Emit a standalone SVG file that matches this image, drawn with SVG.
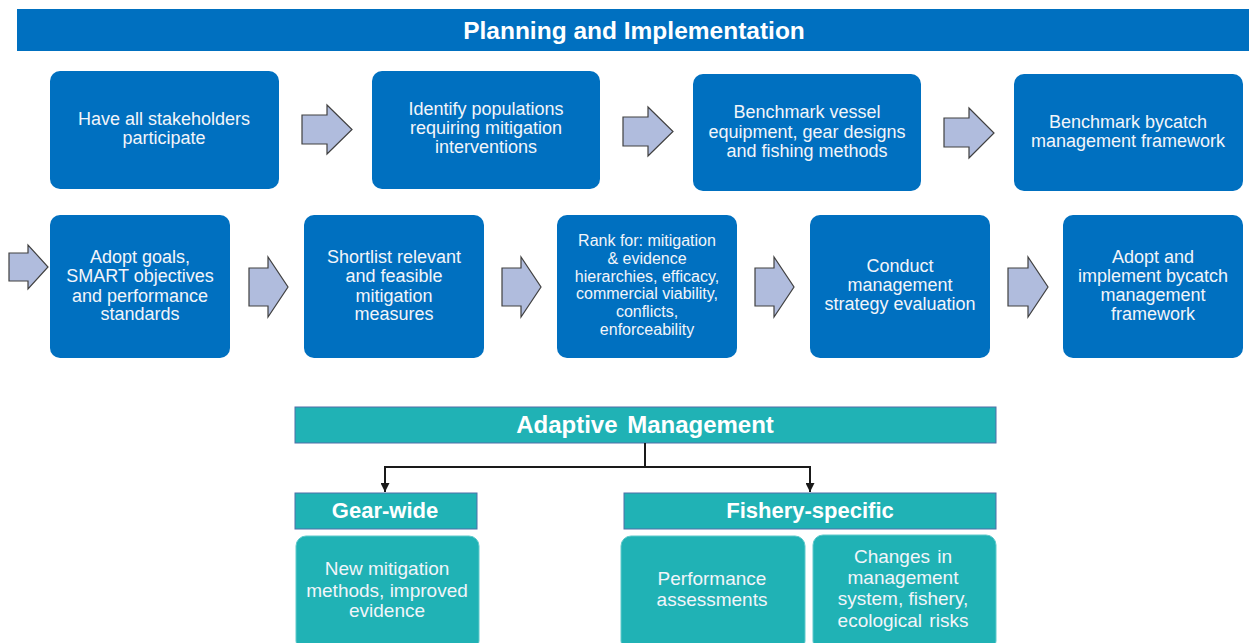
<svg xmlns="http://www.w3.org/2000/svg" width="1251" height="643" viewBox="0 0 1251 643">
<style>
.bar{fill:#0070C0}
.box{fill:#0070C0}
.tbar{fill:#20B2B5;stroke:#4F6FA8;stroke-width:1}
.tbox{fill:#20B2B5;stroke:#5FC9CB;stroke-width:1}
.arr{fill:#B0BCDD;stroke:#404040;stroke-width:1.2;stroke-linejoin:miter}
.t{font-family:"Liberation Sans",Arial,sans-serif;fill:#F2F5FA;text-anchor:middle}
.n{font-size:18px}
.s{font-size:16px}
.b{font-weight:bold;fill:#FFFFFF}
.c{fill:none;stroke:#1A1A1A;stroke-width:2}
</style>
<defs>
<marker id="ah" markerWidth="9" markerHeight="9" refX="9" refY="4.5" orient="auto" markerUnits="userSpaceOnUse" viewBox="0 0 9 9">
<path d="M0,0 L9,4.5 L0,9 Z" fill="#1A1A1A"/>
</marker>
</defs>
<rect width="1251" height="643" fill="#FFFFFF"/>

<g id="title">
<rect class="bar" x="17" y="9" width="1232" height="42"/>
<text class="t b" x="634" y="39" font-size="24.5">Planning and Implementation</text>
</g>

<g id="n1">
<rect class="box" x="50" y="71" width="229" height="118" rx="10"/>
<text class="t n" x="164" y="125">Have all stakeholders</text>
<text class="t n" x="164" y="144">participate</text>
</g>
<g id="n2">
<rect class="box" x="372" y="71" width="228" height="118" rx="10"/>
<text class="t n" x="486" y="115">Identify populations</text>
<text class="t n" x="486" y="134">requiring mitigation</text>
<text class="t n" x="486" y="153">interventions</text>
</g>
<g id="n3">
<rect class="box" x="693" y="74" width="228" height="117" rx="10"/>
<text class="t n" x="807" y="118">Benchmark vessel</text>
<text class="t n" x="807" y="138">equipment, gear designs</text>
<text class="t n" x="807" y="157">and fishing methods</text>
</g>
<g id="n4">
<rect class="box" x="1014" y="74" width="229" height="117" rx="10"/>
<text class="t n" x="1128" y="128">Benchmark bycatch</text>
<text class="t n" x="1128" y="147">management framework</text>
</g>

<g id="n5">
<rect class="box" x="50" y="215" width="180" height="143" rx="10"/>
<text class="t n" x="140" y="263">Adopt goals,</text>
<text class="t n" x="140" y="282">SMART objectives</text>
<text class="t n" x="140" y="302">and performance</text>
<text class="t n" x="140" y="320">standards</text>
</g>
<g id="n6">
<rect class="box" x="304" y="215" width="180" height="143" rx="10"/>
<text class="t n" x="394" y="263">Shortlist relevant</text>
<text class="t n" x="394" y="282">and feasible</text>
<text class="t n" x="394" y="302">mitigation</text>
<text class="t n" x="394" y="320">measures</text>
</g>
<g id="n7">
<rect class="box" x="557" y="215" width="180" height="143" rx="10"/>
<text class="t s" x="647" y="246">Rank for: mitigation</text>
<text class="t s" x="647" y="264">&amp; evidence</text>
<text class="t s" x="647" y="282">hierarchies, efficacy,</text>
<text class="t s" x="647" y="299">commercial viability,</text>
<text class="t s" x="647" y="317">conflicts,</text>
<text class="t s" x="647" y="335">enforceability</text>
</g>
<g id="n8">
<rect class="box" x="810" y="215" width="180" height="143" rx="10"/>
<text class="t n" x="900" y="272">Conduct</text>
<text class="t n" x="900" y="291">management</text>
<text class="t n" x="900" y="310">strategy evaluation</text>
</g>
<g id="n9">
<rect class="box" x="1063" y="215" width="180" height="143" rx="10"/>
<text class="t n" x="1153" y="263">Adopt and</text>
<text class="t n" x="1153" y="282">implement bycatch</text>
<text class="t n" x="1153" y="301">management</text>
<text class="t n" x="1153" y="320">framework</text>
</g>

<g id="flow-arrows">
<polygon class="arr" points="302,115 327,115 327,105 352,129.5 327,154 327,144 302,144"/>
<polygon class="arr" points="623,117 648,117 648,107 673,131.5 648,156 648,146 623,146"/>
<polygon class="arr" points="944,118 969,118 969,108 994,133 969,158 969,147 944,147"/>
<polygon class="arr" points="9,253 28,253 28,245 48,267 28,289 28,281 9,281"/>
<polygon class="arr" points="249,268 268,268 268,257 288,287 268,317 268,306 249,306"/>
<polygon class="arr" points="502,268 521,268 521,257 541,287 521,317 521,306 502,306"/>
<polygon class="arr" points="755,268 774,268 774,257 794,287 774,317 774,306 755,306"/>
<polygon class="arr" points="1008,268 1028,268 1028,257 1048,287 1028,317 1028,306 1008,306"/>
</g>

<g id="adaptive">
<rect class="tbar" x="295" y="407" width="701" height="36"/>
<text class="t b" x="645" y="433" font-size="24" word-spacing="3">Adaptive Management</text>
</g>

<g id="connectors">
<path class="c" d="M645,443 V467 H385 V492" marker-end="url(#ah)"/>
<path class="c" d="M645,467 H810 V492" marker-end="url(#ah)"/>
</g>

<g id="gear">
<rect class="tbar" x="295" y="493" width="182" height="36"/>
<text class="t b" x="385" y="518" font-size="22">Gear-wide</text>
</g>
<g id="fishery">
<rect class="tbar" x="624" y="493" width="372" height="36"/>
<text class="t b" x="810" y="518" font-size="22">Fishery-specific</text>
</g>

<g id="g1">
<rect class="tbox" x="296" y="536" width="183" height="115" rx="10"/>
<text class="t" font-size="19" x="387" y="575">New mitigation</text>
<text class="t" font-size="19" x="387" y="597">methods, improved</text>
<text class="t" font-size="19" x="387" y="617">evidence</text>
</g>
<g id="f1">
<rect class="tbox" x="621" y="536" width="184" height="115" rx="10"/>
<text class="t" font-size="19" x="712" y="585">Performance</text>
<text class="t" font-size="19" x="712" y="606">assessments</text>
</g>
<g id="f2">
<rect class="tbox" x="813" y="535" width="183" height="116" rx="10"/>
<text class="t" font-size="19" x="903" y="563" word-spacing="2">Changes in</text>
<text class="t" font-size="19" x="903" y="584">management</text>
<text class="t" font-size="19" x="903" y="605">system, fishery,</text>
<text class="t" font-size="19" x="903" y="627" word-spacing="2">ecological risks</text>
</g>
</svg>
